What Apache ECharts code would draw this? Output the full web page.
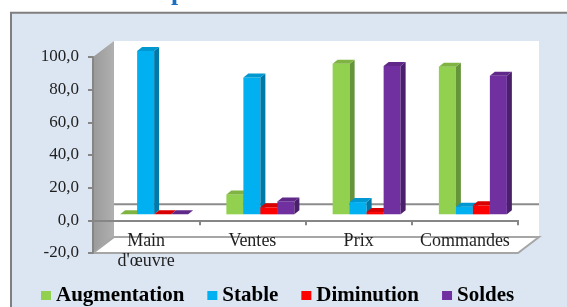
<!DOCTYPE html>
<html><head><meta charset="utf-8">
<script src="https://cdn.jsdelivr.net/npm/echarts@6/dist/echarts.min.js"></script>
<style>html,body{margin:0;padding:0;background:#fff}#c{width:567px;height:307px}</style>
</head><body><div id="c"></div>
<script>
const categories = ["Main\nd'œuvre", "Ventes", "Prix", "Commandes"];
const seriesNames = ["Augmentation", "Stable", "Diminution", "Soldes"];
const augmentation = [0, 12.2, 92.2, 90.3];
const stable = [100, 83.8, 7.5, 4.7];
const diminution = [0, 4.3, 1.4, 5.5];
const soldes = [0, 7.9, 90.8, 84.8];
const yTicks = [-20, 0, 20, 40, 60, 80, 100];

const frontColors = ['#92d050', '#00b0f0', '#ff0000', '#7030a0'];
const sideColors = ['#66943a', '#0079a8', '#b80000', '#4a1f6c'];
const topColors = ['#7fb443', '#0098d0', '#d80000', '#5f2889'];
const values = [augmentation, stable, diminution, soldes];

const WDX = 21, WDY = -16;   // wall depth offset
const SX = 8, SY = -6;       // bar plane shift
const BDX = 5, BDY = -4;     // bar depth

function wallsRender(params, api) {
  const cs = params.coordSys;
  const x0 = cs.x, x1 = cs.x + cs.width;
  const yTop = api.coord([0, yTicks[yTicks.length - 1]])[1];
  const yBot = api.coord([0, yTicks[0]])[1];
  const y0 = api.coord([0, 0])[1];
  return {
    type: 'group',
    children: [
      { type: 'rect', shape: { x: x0 + WDX, y: yTop + WDY, width: x1 - x0, height: yBot - yTop },
        style: { fill: '#ffffff' } },
      { type: 'polygon', shape: { points: [[x0, yTop], [x0 + WDX, yTop + WDY], [x0 + WDX, yBot + WDY], [x0, yBot]] },
        style: { fill: new echarts.graphic.LinearGradient(0, 0, 1, 0, [
          { offset: 0, color: '#9a9a9a' }, { offset: 1, color: '#b0b0b0' }]) } },
      { type: 'polygon', shape: { points: [[x0, yBot], [x1, yBot], [x1 + WDX, yBot + WDY], [x0 + WDX, yBot + WDY]] },
        style: { fill: '#ffffff', stroke: '#a6a6a6', lineWidth: 2 } },
      { type: 'line', shape: { x1: x0 + WDX, y1: y0 + WDY, x2: x1 + WDX, y2: y0 + WDY },
        style: { stroke: '#8c8c8c', lineWidth: 2 } }
    ]
  };
}

function makeBarRender(si) {
  return function (params, api) {
    const cat = api.value(0), val = api.value(1);
    const base = api.coord([cat, 0]);
    const top = api.coord([cat, val]);
    const band = api.size([1, 0])[0];
    const bw = band * 0.16;
    const left = base[0] - 2 * bw + si * bw + SX;
    const right = left + bw;
    const yb = base[1] + SY, yt = top[1] + SY;
    return {
      type: 'group',
      children: [
        { type: 'rect', shape: { x: left, y: yt, width: bw, height: Math.max(0, yb - yt) },
          style: { fill: frontColors[si] } },
        { type: 'polygon', shape: { points: [[right, yt], [right + BDX, yt + BDY], [right + BDX, yb + BDY], [right, yb]] },
          style: { fill: sideColors[si] } },
        { type: 'polygon', shape: { points: [[left, yt], [right, yt], [right + BDX, yt + BDY], [left + BDX, yt + BDY]] },
          style: { fill: topColors[si] } }
      ]
    };
  };
}

const chart = echarts.init(document.getElementById('c'), null, { renderer: 'canvas' });
const series = [{
  type: 'custom', name: 'walls', z: -1, silent: true,
  renderItem: wallsRender, data: [[0, 0]], encode: { x: 0, y: 1 }
}];
seriesNames.forEach((n, si) => {
  series.push({
    type: 'custom', name: n, z: 2,
    itemStyle: { color: frontColors[si] },
    renderItem: makeBarRender(si),
    data: values[si].map((v, i) => [i, v]),
    encode: { x: 0, y: 1 }
  });
});

chart.setOption({
  animation: false,
  graphic: [
    { type: 'rect', z: -100, shape: { x: 11, y: 12.7, width: 700, height: 400 },
      style: { fill: '#dce6f2', stroke: '#7f7f7f', lineWidth: 2 } },
    { type: 'text', z: -90, x: 171, y: 6,
      style: { text: 'p', fill: '#1a6fc0', font: 'bold 26px "Liberation Serif"', verticalAlign: 'bottom' } }
  ],
  grid: { left: 93, right: 49, top: 57, bottom: 54 },
  legend: {
    data: seriesNames, left: 41, top: 285, padding: 0, icon: 'rect', itemWidth: 10, itemHeight: 9, itemGap: 23,
    textStyle: { fontFamily: 'Liberation Serif', fontWeight: 'bold', fontSize: 21, color: '#000' }
  },
  xAxis: {
    type: 'category', data: categories,
    axisLine: { onZero: true, lineStyle: { color: '#868686', width: 2 } },
    axisTick: { show: true, length: 5, lineStyle: { color: '#868686', width: 2 } },
    axisLabel: { margin: 11, fontFamily: 'Liberation Serif', fontSize: 18, lineHeight: 20, color: '#1f1f1f', interval: 0 },
    splitLine: { show: false }
  },
  yAxis: {
    type: 'value', min: yTicks[0], max: yTicks[yTicks.length - 1], interval: yTicks[1] - yTicks[0],
    axisLine: { show: true, lineStyle: { color: '#868686', width: 2 } },
    axisTick: { show: true, length: 5, lineStyle: { color: '#868686', width: 2 } },
    axisLabel: { margin: 14, fontFamily: 'Liberation Serif', fontSize: 17, color: '#1f1f1f',
      formatter: v => v.toFixed(1).replace('.', ',') },
    splitLine: { show: false }
  },
  series: series
});

// place the category axis on the value 0 of the y axis
const yZero = chart.convertToPixel({ yAxisIndex: 0 }, 0);
const yMinPx = chart.convertToPixel({ yAxisIndex: 0 }, yTicks[0]);
chart.setOption({ xAxis: { offset: -(yMinPx - yZero) } });
</script></body></html>
